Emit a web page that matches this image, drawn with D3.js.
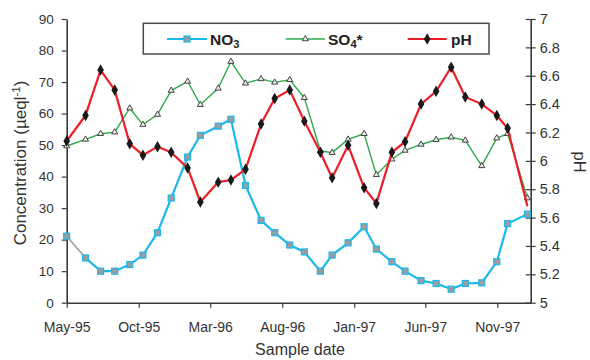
<!DOCTYPE html>
<html><head><meta charset="utf-8">
<script src="https://cdn.jsdelivr.net/npm/d3@7"></script>
<style>body{margin:0;background:#fff;} svg{display:block;font-family:"Liberation Sans",Arial,sans-serif;}</style>
</head><body><svg id="c" width="590" height="360"></svg>
<script>
const dates = ["1995-05-01","1995-06-10","1995-07-12","1995-08-11","1995-09-12","1995-10-10","1995-11-10","1995-12-09",
"1996-01-13","1996-02-09","1996-03-18","1996-04-14","1996-05-15","1996-06-17","1996-07-16","1996-08-17","1996-09-17",
"1996-10-21","1996-11-15","1996-12-19","1997-01-22","1997-02-17","1997-03-22","1997-04-19","1997-05-23","1997-06-24",
"1997-07-26","1997-08-25","1997-09-29","1997-10-31","1997-11-23","1998-01-04"];
const no3 = [21.1,14.2,10.0,10.0,12.1,15.1,22.2,33.2,46.2,53.1,56.0,58.2,37.2,26.1,22.2,18.3,16.1,10.0,15.1,19.0,24.1,17.0,13.0,10.0,7.0,6.1,4.3,6.1,6.3,13.0,25.1,28.1];
const so4 = [49.7,51.8,53.6,54.1,61.7,56.5,59.7,67.3,70.2,62.8,68.0,76.5,69.6,71.0,69.9,70.7,65.0,48.2,47.6,51.8,53.6,40.6,45.5,48.3,50.2,51.7,52.5,51.5,43.4,52.2,53.6,33.2];
const ph = [6.14,6.32,6.64,6.50,6.12,6.04,6.10,6.06,5.95,5.71,5.85,5.865,5.94,6.26,6.44,6.50,6.28,6.06,5.88,6.11,5.81,5.70,6.06,6.135,6.40,6.49,6.66,6.45,6.40,6.32,6.23,5.68];
const xTicks = ["1995-05-01","1995-10-01","1996-03-01","1996-08-01","1997-01-01","1997-06-01","1997-11-01"];
const yLeftTicks = [0,10,20,30,40,50,60,70,80,90];
const yRightTicks = [5,5.2,5.4,5.6,5.8,6,6.2,6.4,6.6,6.8,7];

const parse = d3.utcParse("%Y-%m-%d");
const D = dates.map(parse);
const svg = d3.select("#c");
const L = 66.7, R = 530.7, T = 19, B = 302.7;
const x = d3.scaleUtc().domain([parse("1995-05-01"), parse("1998-01-11")]).range([L, R]);
const y = d3.scaleLinear().domain([0, 90]).range([B, T]);
const y2 = d3.scaleLinear().domain([5, 7]).range([B, T]);
const axisCol = "#3a3a3a", textCol = "#333";
const cyan = "#1cb8ec", green = "#2eaa48", red = "#ee1c25";

// axes
const gx = svg.append("g").attr("transform", `translate(0,${B})`)
  .call(d3.axisBottom(x).tickValues(xTicks.map(parse)).tickFormat(d3.utcFormat("%b-%y")).tickSize(5).tickPadding(14).tickSizeOuter(0));
const gl = svg.append("g").attr("transform", `translate(${L},0)`)
  .call(d3.axisLeft(y).tickValues(yLeftTicks).tickSize(5).tickPadding(8).tickSizeOuter(0));
const gr = svg.append("g").attr("transform", `translate(${R},0)`)
  .call(d3.axisRight(y2).tickValues(yRightTicks).tickFormat(d => String(+d.toFixed(1))).tickSize(5).tickPadding(4).tickSizeOuter(0));
gr.selectAll(".tick line").attr("x1", -5);
[gx, gl, gr].forEach(g => {
  g.select(".domain").attr("stroke", axisCol).attr("stroke-width", 1.6);
  g.selectAll(".tick line").attr("stroke", axisCol).attr("stroke-width", 1.2);
  g.selectAll("text").attr("fill", textCol).attr("font-family", "Liberation Sans, Arial, sans-serif");
});
gx.selectAll("text").attr("font-size", 14);
gl.selectAll("text").attr("font-size", 13.5);
gr.selectAll("text").attr("font-size", 14.5);

// titles
svg.append("text").attr("x", 300).attr("y", 355).attr("text-anchor", "middle").attr("font-size", 16).attr("fill", textCol).text("Sample date");
const lt = svg.append("text").attr("transform", "translate(26,163) rotate(-90)").attr("text-anchor", "middle").attr("font-size", 17).attr("fill", textCol);
lt.append("tspan").text("Concentration (µeql");
lt.append("tspan").attr("font-size", 11.5).attr("dy", -6).text("-1");
lt.append("tspan").attr("dy", 6).text(")");
svg.append("text").attr("transform", "translate(574,162) rotate(90)").attr("text-anchor", "middle").attr("font-size", 16.5).attr("fill", textCol).text("pH");

// series
const pts = (vals, sc) => vals.map((v, i) => [x(D[i]), sc(v)]);
const line = d3.line();
const pNO3 = pts(no3, y), pSO4 = pts(so4, y), pPH = pts(ph, y2);

svg.append("path").attr("d", line(pNO3.slice(0, 2))).attr("fill", "none").attr("stroke", "#a0a0a0").attr("stroke-width", 1.6);
svg.append("path").attr("d", line(pNO3.slice(1))).attr("fill", "none").attr("stroke", cyan).attr("stroke-width", 2.2);
svg.append("g").selectAll("rect").data(pNO3).join("rect")
  .attr("x", d => d[0] - 3).attr("y", d => d[1] - 3).attr("width", 6).attr("height", 6)
  .attr("fill", "#9c9c9c").attr("stroke", cyan).attr("stroke-width", 1.2);

svg.append("path").attr("d", line(pSO4)).attr("fill", "none").attr("stroke", green).attr("stroke-width", 1.4);
const tri = d3.symbol().type(d3.symbolTriangle).size(16);
svg.append("g").selectAll("path").data(pSO4).join("path")
  .attr("transform", d => `translate(${d[0]},${d[1]})`).attr("d", tri)
  .attr("fill", "#e8e8e8").attr("stroke", "#333").attr("stroke-width", 0.9);

svg.append("path").attr("d", line(pPH)).attr("fill", "none").attr("stroke", red).attr("stroke-width", 2.2);
const dia = d3.symbol().type(d3.symbolDiamond).size(38);
svg.append("g").selectAll("path").data(pPH.slice(0, -1)).join("path")
  .attr("transform", d => `translate(${d[0]},${d[1]})`).attr("d", dia).attr("fill", "#1a1a1a");

// legend
const lg = svg.append("g");
lg.append("rect").attr("x", 143.3).attr("y", 23.3).attr("width", 345.7).attr("height", 30.7)
  .attr("fill", "#fff").attr("stroke", "#4a4a4a").attr("stroke-width", 1.5);
const ly = 39;
const items = [
  {x1: 167, x2: 207, col: cyan, w: 2.2, mk: "sq"},
  {x1: 285.7, x2: 325, col: green, w: 1.4, mk: "tri"},
  {x1: 407.7, x2: 446.7, col: red, w: 2.2, mk: "dia"}
];
items.forEach(it => {
  lg.append("line").attr("x1", it.x1).attr("x2", it.x2).attr("y1", ly).attr("y2", ly).attr("stroke", it.col).attr("stroke-width", it.w);
  const cx = (it.x1 + it.x2) / 2;
  if (it.mk === "sq") lg.append("rect").attr("x", cx - 3).attr("y", ly - 3).attr("width", 6).attr("height", 6).attr("fill", "#9c9c9c").attr("stroke", cyan).attr("stroke-width", 1.2);
  if (it.mk === "tri") lg.append("path").attr("transform", `translate(${cx},${ly})`).attr("d", tri).attr("fill", "#e8e8e8").attr("stroke", "#333").attr("stroke-width", 0.9);
  if (it.mk === "dia") lg.append("path").attr("transform", `translate(${cx},${ly})`).attr("d", dia).attr("fill", "#1a1a1a");
});
const t1 = lg.append("text").attr("x", 210).attr("y", ly + 6).attr("font-size", 15.5).attr("font-weight", "bold").attr("fill", "#222");
t1.append("tspan").text("NO");
t1.append("tspan").attr("font-size", 11).attr("dy", 3).text("3");
const t2 = lg.append("text").attr("x", 328).attr("y", ly + 6).attr("font-size", 15.5).attr("font-weight", "bold").attr("fill", "#222");
t2.append("tspan").text("SO");
t2.append("tspan").attr("font-size", 11).attr("dy", 3).text("4");
t2.append("tspan").attr("dy", -3).text("*");
lg.append("text").attr("x", 451).attr("y", ly + 6).attr("font-size", 15.5).attr("font-weight", "bold").attr("fill", "#222").text("pH");
</script></body></html>
